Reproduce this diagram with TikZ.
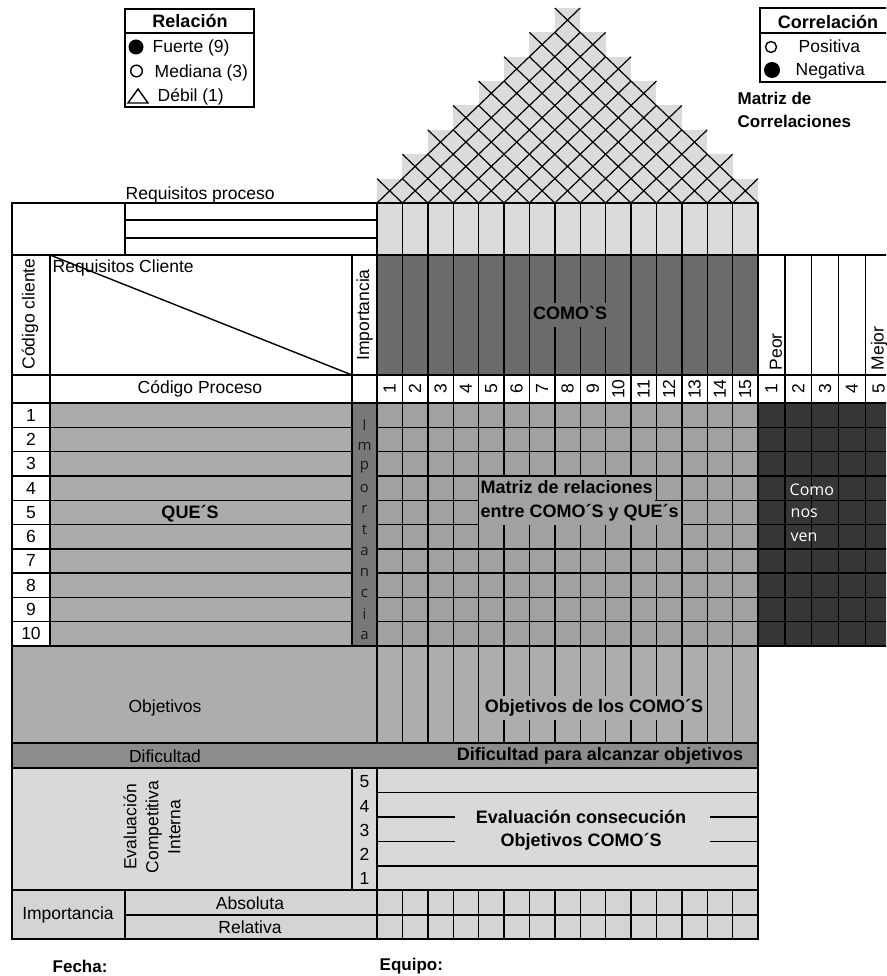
\documentclass[tikz,border=0pt]{standalone}
\usepackage{fontspec}
\setmainfont{Liberation Sans}
\newfontfamily\uifont{Open Sans}
\newfontfamily\rawsans{Liberation Sans}[Ligatures=TeXOff]
\definecolor{roofgray}{gray}{0.86}
\definecolor{comogray}{gray}{0.42}
\definecolor{matgray}{gray}{0.63}
\definecolor{quegray}{gray}{0.67}
\definecolor{impgray}{gray}{0.47}
\definecolor{nosgray}{gray}{0.21}
\definecolor{objgray}{gray}{0.68}
\definecolor{difgray}{gray}{0.55}
\definecolor{evalgray}{gray}{0.85}
\definecolor{botgray}{gray}{0.83}
\tikzset{
  txt/.style={inner sep=0pt, font=\fontsize{17.5}{21}\selectfont},
  btxt/.style={inner sep=0pt, font=\fontsize{18}{21}\selectfont\bfseries},
  masked/.style={btxt, inner xsep=2pt, inner ysep=3pt, text height=13pt, text depth=5pt},
  uitxt/.style={inner sep=0pt, font=\uifont\fontsize{16}{19}\selectfont},
  roofline/.style={line width=1.2pt},
  thickrule/.style={line width=2pt}
}
\begin{document}
\begin{tikzpicture}[x=1pt,y=-1pt,line width=1.4pt]
\useasboundingbox (0,0) rectangle (886,976);
\clip (0,0) rectangle (886,976);

% ---------- area fills ----------
\fill[roofgray] (377,203) rectangle (758,255);
\fill[comogray] (377,255) rectangle (758,375);
\fill[matgray]  (377,403) rectangle (758,646);
\fill[quegray]  (50,403) rectangle (352,646);
\fill[impgray]  (352,403) rectangle (377,646);
\fill[nosgray]  (758,403) rectangle (900,646);
\fill[objgray]  (12,646) rectangle (758,743);
\fill[difgray]  (12,743) rectangle (758,768);
\fill[evalgray] (12,768) rectangle (758,890);
\fill[botgray]  (12,890) rectangle (758,939);

% ---------- correlation roof (stepped, one X per cell) ----------
\foreach \k in {0,...,7}{
  \pgfmathtruncatemacro\hi{14-\k}
  \foreach \c in {\k,...,\hi}{
    \fill[roofgray] ({377+\c*25.4},{203-(\k+1)*24.375}) rectangle ++(25.4,24.375);
  }
}
\foreach \k in {0,...,7}{
  \pgfmathtruncatemacro\hi{14-\k}
  \foreach \c in {\k,...,\hi}{
    \draw[roofline] ({377+\c*25.4},{203-(\k+1)*24.375}) -- ++(25.4,24.375)
                    ++(-25.4,0) -- ++(25.4,-24.375);
  }
}

% ---------- table rules ----------
\draw (12,203) rectangle (758,939);
\draw (12,255) -- (900,255);
\draw (125,203) -- (125,255);
\draw[thickrule] (125,220) -- (377,220) (125,238) -- (377,238);
\draw (377,203) -- (377,743) (377,768) -- (377,939);
\foreach \i in {1,...,14}
  \draw ({377+\i*25.4},203) -- ++(0,540) ({377+\i*25.4},890) -- ++(0,49);
\draw (50,255) -- (50,646);
\draw (352,255) -- (352,646) (352,768) -- (352,890);
\draw (50,255) -- (352,375);
\draw (12,375) -- (900,375) (12,403) -- (900,403);
\foreach \j in {1,...,9}
  \draw (12,{403+\j*24.3}) -- (352,{403+\j*24.3})
        (377,{403+\j*24.3}) -- (900,{403+\j*24.3});
\draw (12,646) -- (900,646);
\foreach \i in {1,...,5}
  \draw ({758+\i*26.8},255) -- ({758+\i*26.8},646);
\draw (12,743) -- (758,743) (12,768) -- (758,768) (12,890) -- (758,890)
      (125,915) -- (758,915);
\draw (125,890) -- (125,939);
\draw (377,792.5) -- (758,792.5) (377,866) -- (758,866);
\draw (377,817) -- (455,817) (710,817) -- (758,817)
      (377,841.5) -- (455,841.5) (710,841.5) -- (758,841.5);

% ---------- legends ----------
\draw (125,9) rectangle (254,107) (125,33) -- (254,33);
\node[btxt, anchor=base] (relT) at (190,28) {Relación};
\fill (136,47) circle (7.5);
\node[txt, anchor=base west] (relF) at (152,53) {Fuerte (9)};
\draw (136.5,71) circle (5.8);
\node[txt, anchor=base west] (relM) at (154,77.5) {Mediana (3)};
\draw (128,103) -- (148,103) -- (138,89) -- cycle;
\node[txt, anchor=base west] (relD) at (157,102) {Débil (1)};

\draw (760,8) rectangle (900,82) (760,33) -- (900,33);
\node[btxt, anchor=base] (corT) at (828,29) {Correlación};
\draw (771,47) circle (5.5);
\node[txt, anchor=base west] (corP) at (798,53) {Positiva};
\fill (772,70) circle (8);
\node[txt, anchor=base west] (corN) at (795,76) {Negativa};

\node[btxt, anchor=base west, align=left, font=\fontsize{17}{23}\selectfont\bfseries]
  (corrT) at (737,128) {Matriz de\\Correlaciones};

% ---------- header texts ----------
\node[txt, anchor=base west] (reqP) at (125,199.5) {Requisitos proceso};
\node[txt, anchor=west] (reqC) at (52,268) {Requisitos Cliente};
\node[txt, rotate=90] (codC) at (30,314) {Código cliente};
\node[txt, rotate=90] (impH) at (364.5,315) {Importancia};
\node[masked, fill=comogray, font=\rawsans\fontsize{18}{21}\selectfont\bfseries]
  (comos) at (570,315) {COMO`S};
\node[txt] (codP) at (200,389) {Código Proceso};
\foreach \i in {1,...,15}
  \node[txt, rotate=90] (hn\i) at ({377+(\i-0.5)*25.4},389) {\i};
\foreach \i in {1,...,5}
  \node[txt, rotate=90] (pn\i) at ({758+(\i-0.5)*26.8},389) {\i};
\node[txt, rotate=90, anchor=west] (peor) at (776,371) {Peor};
\node[txt, rotate=90, anchor=west] (mejor) at (879,371) {Mejor};

% ---------- body texts ----------
\foreach \j in {1,...,10}
  \node[txt] (qn\j) at (31,{403+(\j-0.5)*24.3}) {\j};
\node[btxt] (ques) at (190,514) {QUE´S};
\foreach \l [count=\n] in {I,m,p,o,r,t,a,n,c,i,a}
  \node[uitxt, font=\uifont\fontsize{15}{17}\selectfont, text=black!90] (imp\n)
    at (364.5,{404+\n*21}) {\l};
\node[masked, fill=matgray, anchor=west] (mrel1) at (478,489) {Matriz de relaciones};
\node[masked, fill=matgray, anchor=west] (mrel2) at (478,513) {entre COMO´S y QUE´s};
\node[uitxt, text=white, anchor=west] (ven1) at (789,490) {Como};
\node[uitxt, text=white, anchor=west] (ven2) at (790,513.5) {nos};
\node[uitxt, text=white, anchor=west] (ven3) at (790,537) {ven};

\node[txt] (obj) at (165,708) {Objetivos};
\node[masked, fill=objgray] (objC) at (594,708) {Objetivos de los COMO´S};
\node[txt] (dif) at (165,756) {Dificultad};
\node[btxt] (difC) at (600,756) {Dificultad para alcanzar objetivos};
\node[txt, rotate=90, align=center, font=\fontsize{17.5}{22}\selectfont] (evalI)
  at (152,827) {Evaluación\\Competitiva\\Interna};
\foreach \v [count=\n] in {5,4,3,2,1}
  \node[txt] (ev\v) at (364.5,{782+(\n-1)*24.2}) {\v};
\node[btxt] (evC1) at (581,817) {Evaluación consecución};
\node[btxt] (evC2) at (581,841.5) {Objetivos COMO´S};

\node[txt] (impB) at (68,915) {Importancia};
\node[txt] (abs) at (250,903) {Absoluta};
\node[txt] (rel) at (250,927) {Relativa};

\node[btxt, font=\fontsize{17}{20}\selectfont\bfseries, anchor=west] (fecha) at (52,966) {Fecha:};
\node[btxt, font=\fontsize{17}{20}\selectfont\bfseries, anchor=west] (equipo) at (379,966) {Equipo:};
\end{tikzpicture}
\end{document}
